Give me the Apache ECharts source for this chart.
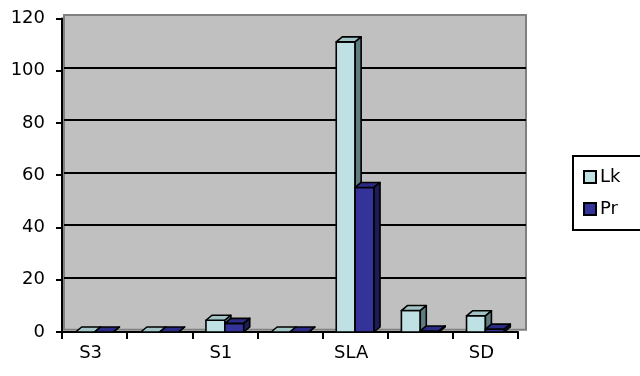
<!DOCTYPE html>
<html>
<head>
<meta charset="utf-8">
<script src="https://cdn.jsdelivr.net/npm/echarts@6/dist/echarts.min.js"></script>
<style>
  html, body { margin: 0; padding: 0; background: #fff; }
  #chart { width: 640px; height: 376px; }
</style>
</head>
<body>
<div id="chart"></div>
<script>
// Categories (only every other one carries a printed label)
const categories = ['S3', '', 'S1', '', 'SLA', '', 'SD'];
const lkValues = [0, 0, 4.5, 0, 111, 8.2, 6.2];
const prValues = [0, 0, 3.3, 0, 55.3, 0.4, 1.1];
const yTicks = { min: 0, max: 120, interval: 20 };

const FONT = 'DejaVu Sans';

// Draws one 3D block: front face, top cap and right side face.
function makeBlock(slot, faces) {
  return function (params, api) {
    const idx = api.value(0);
    const v = api.value(1);
    const base = api.coord([idx, 0]);
    const top = api.coord([idx, v]);
    const band = api.size([1, 0])[0];
    const w = band * 0.29;
    const x0 = slot === 0 ? base[0] - w : base[0];
    const x1 = x0 + w;
    const dx = 6, dy = 5;
    const yb = base[1], yt = top[1];
    const stroke = { stroke: '#000', lineWidth: 1.6, lineJoin: 'round' };
    return {
      type: 'group',
      children: [
        { type: 'polygon', shape: { points: [[x0, yt], [x1, yt], [x1, yb], [x0, yb]] },
          style: Object.assign({ fill: faces.front }, stroke) },
        { type: 'polygon', shape: { points: [[x0, yt], [x0 + dx, yt - dy], [x1 + dx, yt - dy], [x1, yt]] },
          style: Object.assign({ fill: faces.top }, stroke) },
        { type: 'polygon', shape: { points: [[x1, yt], [x1 + dx, yt - dy], [x1 + dx, yb - dy], [x1, yb]] },
          style: Object.assign({ fill: faces.side }, stroke) }
      ]
    };
  };
}

const lkFaces = { front: '#bfe1e4', top: '#a3c4c7', side: '#5f7d80' };
const prFaces = { front: '#333399', top: '#2b2b85', side: '#1d1d55' };

const chart = echarts.init(document.getElementById('chart'), null, { renderer: 'canvas' });

chart.setOption({
  backgroundColor: '#fff',
  animation: false,
  textStyle: { fontFamily: FONT },
  grid: [
    // back wall
    { left: 64, right: 114, top: 15, bottom: 46.3, show: true,
      backgroundColor: '#c0c0c0', borderColor: '#808080', borderWidth: 2 },
    // front plane with the axes and the bars
    { left: 62, right: 122, top: 18.4, bottom: 44 }
  ],
  legend: {
    left: 573, top: 156,
    orient: 'vertical',
    backgroundColor: '#fff',
    borderColor: '#000', borderWidth: 2,
    padding: [12, 40, 12, 10],
    itemGap: 14,
    itemWidth: 12, itemHeight: 12,
    icon: 'rect',
    itemStyle: { borderColor: '#000', borderWidth: 2 },
    textStyle: { fontFamily: FONT, fontSize: 18, color: '#000', padding: [0, 0, 0, -1] },
    data: ['Lk', 'Pr']
  },
  xAxis: [
    { gridIndex: 0, type: 'category', data: categories, show: false },
    { gridIndex: 1, type: 'category', data: categories,
      axisLine: { show: true, lineStyle: { color: '#000', width: 2 } },
      axisTick: { show: true, interval: 0, length: 7, lineStyle: { color: '#000', width: 2 } },
      axisLabel: { interval: 0, margin: 12, color: '#000', fontFamily: FONT, fontSize: 18,
                   padding: [0, 8, 0, 0] },
      splitLine: { show: false } }
  ],
  yAxis: [
    { gridIndex: 0, type: 'value', min: yTicks.min, max: yTicks.max, interval: yTicks.interval,
      axisLine: { show: false }, axisTick: { show: false }, axisLabel: { show: false },
      splitLine: { show: true, showMinLine: false, showMaxLine: false,
                   lineStyle: { color: '#000', width: 2 } } },
    { gridIndex: 1, type: 'value', min: yTicks.min, max: yTicks.max, interval: yTicks.interval,
      axisLine: { show: true, lineStyle: { color: '#000', width: 2 } },
      axisTick: { show: true, length: 6, lineStyle: { color: '#000', width: 2 } },
      axisLabel: { margin: 17, color: '#000', fontFamily: FONT, fontSize: 18 },
      splitLine: { show: false } }
  ],
  series: [
    { name: 'Lk', type: 'custom', xAxisIndex: 1, yAxisIndex: 1,
      renderItem: makeBlock(0, lkFaces),
      itemStyle: { color: lkFaces.front, borderColor: '#000', borderWidth: 2 },
      encode: { x: 0, y: 1 },
      data: lkValues.map((v, i) => [i, v]) },
    { name: 'Pr', type: 'custom', xAxisIndex: 1, yAxisIndex: 1,
      renderItem: makeBlock(1, prFaces),
      itemStyle: { color: prFaces.front, borderColor: '#000', borderWidth: 2 },
      encode: { x: 0, y: 1 },
      data: prValues.map((v, i) => [i, v]) }
  ]
});
</script>
</body>
</html>
